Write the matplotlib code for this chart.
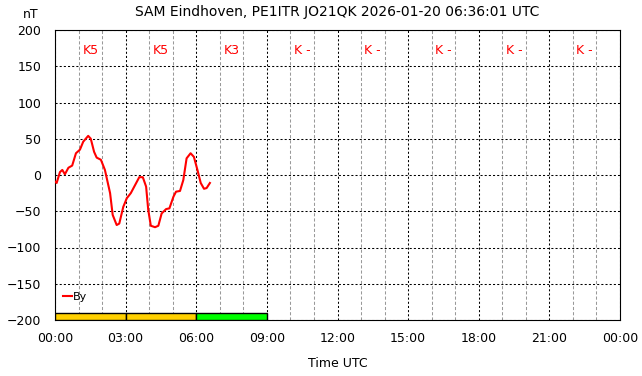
import matplotlib
matplotlib.use('Agg')
import matplotlib.pyplot as plt
from matplotlib.ticker import MultipleLocator

# By component, hours UTC and nT
hours = [0.00, 0.07, 0.21, 0.31, 0.42, 0.57, 0.73, 0.89, 1.06, 1.20, 1.41, 1.52,
         1.66, 1.77, 1.95, 2.12, 2.34, 2.45, 2.62, 2.73, 2.90, 3.05, 3.22, 3.40,
         3.58, 3.73, 3.87, 3.96, 4.07, 4.25, 4.39, 4.53, 4.72, 4.86, 5.03, 5.14,
         5.31, 5.45, 5.59, 5.76, 5.90, 6.05, 6.19, 6.33, 6.44, 6.58]
by = [-9, -11, 4, 7, 1, 10, 13, 30, 35, 46, 54, 50,
      32, 24, 21, 7, -25, -55, -69, -67, -44, -32, -25, -14,
      -3, -3, -16, -48, -70, -72, -70, -53, -47, -46, -30, -23,
      -22, -7, 23, 30, 25, 7, -11, -19, -18, -11]

k_labels = ['K5', 'K5', 'K3', 'K -', 'K -', 'K -', 'K -', 'K -']
k_colors = ['#ffd000', '#ffd000', '#00ff00']
tick_labels = ['00:00', '03:00', '06:00', '09:00', '12:00', '15:00', '18:00', '21:00', '00:00']

fig = plt.figure(figsize=(6.42, 3.76), dpi=100)
ax = fig.add_axes([55/642, 56/376, 565/642, 290/376])

ax.set_xlim(0, 24)
ax.set_ylim(-200, 200)
ax.xaxis.set_minor_locator(MultipleLocator(1))
ax.yaxis.set_major_locator(MultipleLocator(50))
ax.set_xticks(range(0, 25, 3))
ax.set_xticklabels(tick_labels)
ax.grid(which='major', color='black', linestyle=(0, (2, 2)), linewidth=0.75)
ax.grid(which='minor', axis='x', color='#999999', linestyle=(0, (3, 2)), linewidth=0.75)
ax.tick_params(which='both', length=0, labelsize=9)
ax.tick_params(axis='x', pad=9)
ax.tick_params(axis='y', pad=10)

for i, c in enumerate(k_colors):
    ax.bar(i * 3, 10, width=3, bottom=-200, align='edge', color=c,
           edgecolor='black', linewidth=1, zorder=3)

for i, lab in enumerate(k_labels):
    ax.text(i * 3 + 1.5, 172, lab, color='red', ha='center', va='center', fontsize=9)

ax.plot(hours, by, color='red', linewidth=1.5, label='By', zorder=4)
leg = ax.legend(loc='lower left', bbox_to_anchor=(0.0, 0.035), frameon=False,
                fontsize=8, handlelength=0.8, handletextpad=0.1, borderaxespad=0.3)

ax.set_title('SAM Eindhoven, PE1ITR JO21QK 2026-01-20 06:36:01 UTC', fontsize=10, pad=10)
ax.set_xlabel('Time UTC', fontsize=9, labelpad=8)
fig.text(31/642, 1 - 15/376, 'nT', ha='center', va='center', fontsize=9)

fig.savefig('out.png', dpi=100)
